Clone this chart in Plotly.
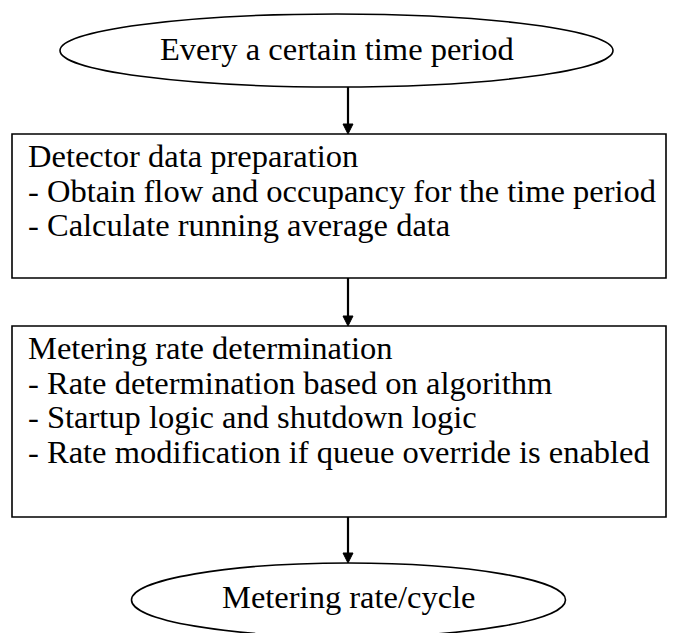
import plotly.graph_objects as go

W, H = 675, 633

# Flowchart content
start_label = "Every a certain time period"
end_label = "Metering rate/cycle"
box1_lines = [
    "Detector data preparation",
    "- Obtain flow and occupancy for the time period",
    "- Calculate running average data",
]
box2_lines = [
    "Metering rate determination",
    "- Rate determination based on algorithm",
    "- Startup logic and shutdown logic",
    "- Rate modification if queue override is enabled",
]

# Layout geometry (pixel-space coordinates, y downward)
ellipse_start = dict(cx=336.5, cy=50.5, rx=276.5, ry=36.5)
ellipse_end = dict(cx=348.5, cy=600, rx=217, ry=37)
box1 = dict(x0=12, x1=666, y0=134, y1=278)
box2 = dict(x0=12, x1=666, y0=326, y1=517)
arrow_x = 348
text_x = 26
line_step = 34.5
first_line_offset = 22
FONT = "Liberation Serif, Times New Roman, serif"
FS = 32.5

fig = go.Figure()
shapes = []
annotations = []

def add_ellipse(e):
    shapes.append(dict(type="circle", xref="x", yref="y",
                       x0=e["cx"] - e["rx"], x1=e["cx"] + e["rx"],
                       y0=e["cy"] - e["ry"], y1=e["cy"] + e["ry"],
                       line=dict(color="black", width=1.6), fillcolor="white"))

def add_box(b, lines):
    shapes.append(dict(type="rect", xref="x", yref="y",
                       x0=b["x0"], x1=b["x1"], y0=b["y0"], y1=b["y1"],
                       line=dict(color="black", width=1.6), fillcolor="white"))
    for i, t in enumerate(lines):
        annotations.append(dict(x=text_x, y=b["y0"] + first_line_offset + i * line_step,
                                xref="x", yref="y", text=t, showarrow=False,
                                xanchor="left", yanchor="middle",
                                font=dict(family=FONT, size=FS, color="black")))

def add_arrow(x, y0, y1):
    head = 10
    shapes.append(dict(type="line", xref="x", yref="y", x0=x, x1=x, y0=y0, y1=y1 - head + 1,
                       line=dict(color="black", width=2.2)))
    shapes.append(dict(type="path", xref="x", yref="y",
                       path=f"M {x-5},{y1-head} L {x+5},{y1-head} L {x},{y1} Z",
                       fillcolor="black", line=dict(color="black", width=1)))

add_ellipse(ellipse_start)
add_ellipse(ellipse_end)
add_box(box1, box1_lines)
add_box(box2, box2_lines)
add_arrow(arrow_x, ellipse_start["cy"] + ellipse_start["ry"], box1["y0"])
add_arrow(arrow_x, box1["y1"], box2["y0"])
add_arrow(arrow_x, box2["y1"], ellipse_end["cy"] - ellipse_end["ry"])

annotations.append(dict(x=ellipse_start["cx"], y=ellipse_start["cy"] - 2, xref="x", yref="y",
                        text=start_label, showarrow=False, xanchor="center", yanchor="middle",
                        font=dict(family=FONT, size=FS, color="black")))
annotations.append(dict(x=ellipse_end["cx"], y=ellipse_end["cy"] - 3, xref="x", yref="y",
                        text=end_label, showarrow=False, xanchor="center", yanchor="middle",
                        font=dict(family=FONT, size=FS, color="black")))

fig.update_layout(
    width=W, height=H,
    margin=dict(l=0, r=0, t=0, b=0),
    paper_bgcolor="white", plot_bgcolor="white",
    xaxis=dict(range=[0, W], visible=False, fixedrange=True),
    yaxis=dict(range=[H, 0], visible=False, fixedrange=True),
    shapes=shapes, annotations=annotations, showlegend=False,
)

fig.write_html("out.html", config=dict(displayModeBar=False),
               post_script="document.body.style.margin='0';document.body.style.overflow='hidden';")
